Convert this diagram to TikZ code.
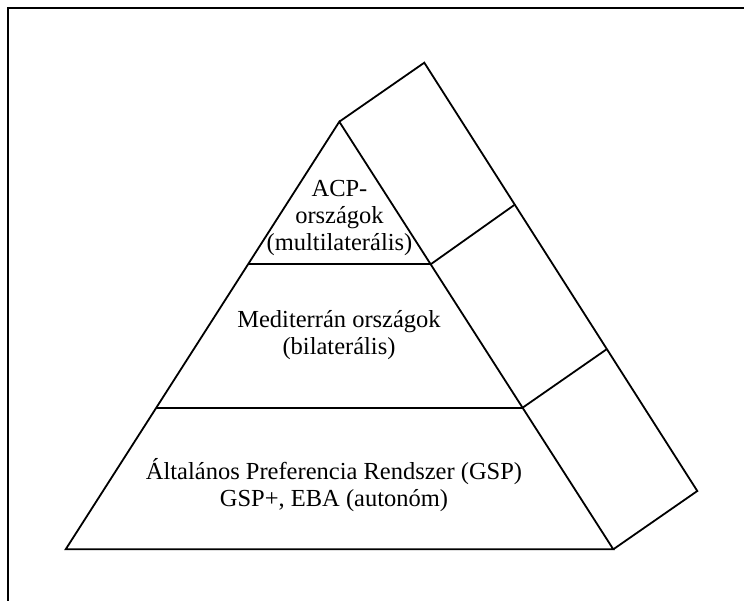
\documentclass[tikz,border=0pt]{standalone}
\usepackage{fontspec}
\setmainfont{Liberation Serif}
\begin{document}
\begin{tikzpicture}[x=1pt,y=-1pt,
  edge/.style={line width=1.8pt,line join=miter},
  frameline/.style={line width=2pt},
  label/.style={align=center,inner sep=0pt,font=\fontsize{24.5}{27}\selectfont}]
\useasboundingbox (0,0) rectangle (744,601);
% frame (cropped by the picture edge)
\draw[frameline] (7.5,601) -- (7.5,8.5) -- (744,8.5);
% front face corners
\coordinate (apex) at (339.3,121.7);
\coordinate (bl) at (65.7,549.3);
\coordinate (br) at (613.3,549.3);
\coordinate (l1) at (248.0,264.3);
\coordinate (r1) at (430.7,264.3);
\coordinate (l2) at (156.0,407.7);
\coordinate (r2) at (522.6,407.7);
% back edge corners
\coordinate (bapex) at (424.3,62.7);
\coordinate (b1) at (514.3,205.0);
\coordinate (b2) at (607.0,349.0);
\coordinate (bbr) at (697.3,491.0);
% front triangle
\draw[edge] (bl) -- (apex) -- (br) -- cycle;
\draw[edge] (l1) -- (r1);
\draw[edge] (l2) -- (r2);
% side face
\draw[edge] (apex) -- (bapex) -- (bbr) -- (br);
\draw[edge] (r1) -- (b1);
\draw[edge] (r2) -- (b2);
% labels
\node[label] (acp) at (339.5,218) {ACP-\\országok\\(multilaterális)};
\node[label] (med) at (339,335) {Mediterrán országok\\(bilaterális)};
\node[label] (gsp) at (334,485) {Általános Preferencia Rendszer (GSP)\\GSP+, EBA (autonóm)};
\end{tikzpicture}
\end{document}
